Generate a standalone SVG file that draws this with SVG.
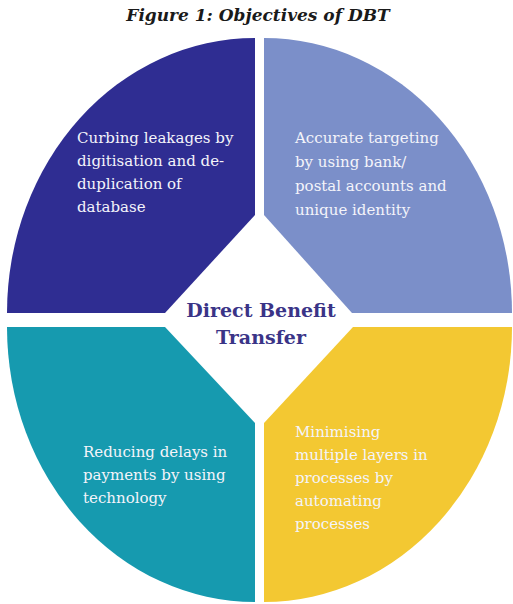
<svg xmlns="http://www.w3.org/2000/svg" width="513" height="604" viewBox="0 0 513 604">
<style>
.q{font-family:"DejaVu Serif","Liberation Serif",serif;font-size:15px;fill:#f4f4fa}
.c{font-family:"DejaVu Serif","Liberation Serif",serif;font-size:19px;font-weight:bold;fill:#3a3487;text-anchor:middle}
.t{font-family:"DejaVu Serif","Liberation Serif",serif;font-size:17px;font-weight:bold;font-style:italic;fill:#1a1a1a;text-anchor:middle}
</style>
<rect width="513" height="604" fill="#ffffff"/>
<text class="t" x="258" y="21">Figure 1: Objectives of DBT</text>
<g id="connectors"></g>
<g id="q1">
<path d="M255,38 L255,215 L165,313 L7,313 A248,275 0 0 1 255,38 Z" fill="#2f2d92"/>
<text class="q"><tspan x="77" y="143">Curbing leakages by</tspan><tspan x="77" y="166">digitisation and de-</tspan><tspan x="77" y="189">duplication of</tspan><tspan x="77" y="212">database</tspan></text>
</g>
<g id="q2">
<path d="M264,38 A248,275 0 0 1 512,313 L352,313 L264,215 Z" fill="#7b8fc9"/>
<text class="q"><tspan x="295" y="143">Accurate targeting</tspan><tspan x="295" y="167">by using bank/</tspan><tspan x="295" y="191">postal accounts and</tspan><tspan x="295" y="215">unique identity</tspan></text>
</g>
<g id="q3">
<path d="M7,327 L165,327 L255,423 L255,602 A248,275 0 0 1 7,327 Z" fill="#169aaf"/>
<text class="q"><tspan x="83" y="457">Reducing delays in</tspan><tspan x="83" y="480">payments by using</tspan><tspan x="83" y="503">technology</tspan></text>
</g>
<g id="q4">
<path d="M353,327 L512,327 A248,275 0 0 1 264,602 L264,423 Z" fill="#f3c832"/>
<text class="q"><tspan x="295" y="437">Minimising</tspan><tspan x="295" y="460">multiple layers in</tspan><tspan x="295" y="483">processes by</tspan><tspan x="295" y="506">automating</tspan><tspan x="295" y="529">processes</tspan></text>
</g>
<g id="center">
<text class="c"><tspan x="261" y="317">Direct Benefit</tspan><tspan x="261" y="344">Transfer</tspan></text>
</g>
</svg>
